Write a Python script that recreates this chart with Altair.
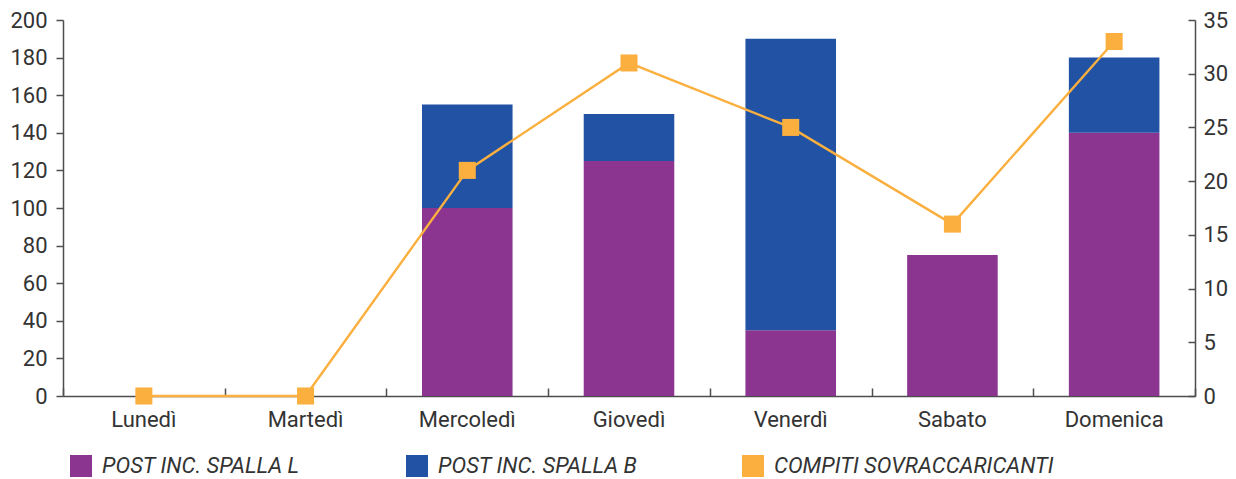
import altair as alt
import pandas as pd

# --- data -------------------------------------------------------------
giorni = ["Lunedì", "Martedì", "Mercoledì", "Giovedì", "Venerdì", "Sabato", "Domenica"]
post_spalla_l = [0, 0, 100, 125, 35, 75, 140]
post_spalla_b = [0, 0, 55, 25, 155, 0, 40]
compiti_sovraccaricanti = [0, 0, 21, 31, 25, 16, 33]

serie = ["POST INC. SPALLA L", "POST INC. SPALLA B", "COMPITI SOVRACCARICANTI"]
colori = ["#8B3590", "#2152A3", "#FBAF3F"]

tick_sx = list(range(0, 201, 20))
tick_dx = list(range(0, 36, 5))

bars_df = pd.DataFrame({
    "giorno": giorni * 2,
    "serie": [serie[0]] * len(giorni) + [serie[1]] * len(giorni),
    "valore": post_spalla_l + post_spalla_b,
    "ordine": [0] * len(giorni) + [1] * len(giorni),
})
line_df = pd.DataFrame({
    "giorno": giorni,
    "serie": [serie[2]] * len(giorni),
    "valore": compiti_sovraccaricanti,
})

# --- style ------------------------------------------------------------
FONT = "Roboto"
AX = "#4d4d4d"
TXT = "#333333"
FS = 22

# bars and line share the same band layout; the tick layer uses plain
# category cells so its ticks fall halfway between neighbouring bars
x_scale = alt.Scale(type="band", domain=giorni, paddingInner=0.44, paddingOuter=0.22)
x_cells = alt.Scale(type="band", domain=giorni, paddingInner=0, paddingOuter=0)
color_scale = alt.Scale(domain=serie, range=colori)

legenda = alt.Legend(
    title=None, orient="none", legendX=7, legendY=435,
    direction="horizontal", columns=3, gridAlign="all", columnPadding=24,
    symbolType="square", symbolSize=484, symbolStrokeWidth=0,
    labelFont=FONT, labelFontSize=FS, labelFontStyle="italic",
    labelColor=TXT, labelOffset=10, labelLimit=400,
)

# stacked bars, left axis 0-200
bars = alt.Chart(bars_df).mark_bar().encode(
    x=alt.X("giorno:N", sort=giorni, scale=x_scale, title=None,
            axis=alt.Axis(labelAngle=0, ticks=False, tickSize=0,
                          domainColor=AX, domainWidth=1.5, labelPadding=13,
                          labelFont=FONT, labelFontSize=FS, labelColor=TXT)),
    y=alt.Y("valore:Q", stack="zero", title=None,
            scale=alt.Scale(domain=[0, 200], nice=False),
            axis=alt.Axis(orient="left", values=tick_sx, grid=False,
                          tickSize=7, tickColor=AX, tickWidth=1.5,
                          domainColor=AX, domainWidth=1.5, labelPadding=9,
                          labelFont=FONT, labelFontSize=FS, labelColor=TXT)),
    color=alt.Color("serie:N", scale=color_scale, legend=legenda),
    order=alt.Order("ordine:Q"),
)

# line with square markers, right axis 0-35
line = alt.Chart(line_df).mark_line(
    strokeWidth=2.4,
    point=alt.OverlayMarkDef(shape="square", size=290, filled=True, opacity=1),
).encode(
    x=alt.X("giorno:N", sort=giorni, scale=x_scale, axis=None),
    y=alt.Y("valore:Q", title=None,
            scale=alt.Scale(domain=[0, 35], nice=False),
            axis=alt.Axis(orient="right", values=tick_dx, grid=False,
                          ticks=False, tickSize=0,
                          domainColor=AX, domainWidth=1.5, labelPadding=8,
                          labelFont=FONT, labelFontSize=FS, labelColor=TXT)),
    color=alt.Color("serie:N", scale=color_scale, legend=legenda),
)

# inward-pointing tick marks for the category axis and the right axis
ticks = alt.Chart(line_df).mark_point(opacity=0).encode(
    x=alt.X("giorno:N", sort=giorni, scale=x_cells, title=None,
            axis=alt.Axis(orient="bottom", offset=-8, tickSize=8,
                          tickBand="extent", labels=False, domain=False,
                          tickColor=AX, tickWidth=1.5, grid=False)),
    y=alt.Y("valore:Q", title=None,
            scale=alt.Scale(domain=[0, 35], nice=False),
            axis=alt.Axis(orient="right", offset=-7, tickSize=7,
                          values=tick_dx, labels=False, domain=False,
                          tickColor=AX, tickWidth=1.5, grid=False)),
)

chart = alt.layer(bars, line, ticks).resolve_scale(
    x="independent", y="independent"
).resolve_axis(
    x="independent", y="independent"
).properties(
    width=1132, height=376,
    autosize=alt.AutoSizeParams(type="none"),
    padding={"left": 63, "top": 20, "right": 41, "bottom": 83},
    background="white",
).configure_view(stroke=None)

chart.save("out.html", embed_options={"renderer": "svg", "actions": False})
